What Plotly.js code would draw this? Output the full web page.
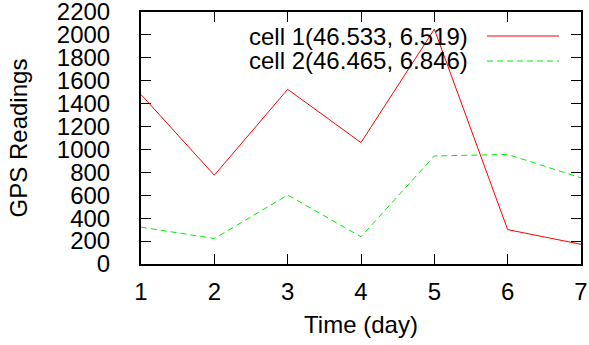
<!DOCTYPE html>
<html>
<head>
<meta charset="utf-8">
<script src="https://cdn.plot.ly/plotly-3.0.1.min.js"></script>
<style>html,body{margin:0;padding:0;background:#fff;}#chart{width:589px;height:345px;}</style>
</head>
<body>
<div id="chart"></div>
<script>
const days = [1, 2, 3, 4, 5, 6, 7];
const cell1Name = "cell 1(46.533, 6.519)";
const cell1Values = [1480, 775, 1525, 1060, 2050, 300, 172];
const cell2Name = "cell 2(46.465, 6.846)";
const cell2Values = [322, 222, 602, 238, 943, 957, 752];
const yTicks = [0, 200, 400, 600, 800, 1000, 1200, 1400, 1600, 1800, 2000, 2200];
const xTicks = [1, 2, 3, 4, 5, 6, 7];

const font = {family: "Liberation Sans, Arial, sans-serif", size: 24, color: "#000"};

const traces = [
  {x: days, y: cell1Values, name: cell1Name, mode: "lines", line: {color: "#ff0000", width: 1}},
  {x: days, y: cell2Values, name: cell2Name, mode: "lines", line: {color: "#00ee00", width: 1, dash: "6px,4px"}}
];

const legendRows = [
  {name: cell1Name, color: "#ff0000", dash: "solid", y: 36},
  {name: cell2Name, color: "#00ee00", dash: "6px,4px", y: 61}
];
const figH = 345, mTop = 12, mBottom = 81;
const plotH = figH - mTop - mBottom;
function py(pix) { return 1 - (pix - mTop) / plotH; }

const annotations = legendRows.map(r => ({
  xref: "paper", yref: "paper", x: (470 - 141) / 440, y: py(r.y),
  xanchor: "right", yanchor: "middle", text: r.name, showarrow: false, font: font
}));
const shapes = legendRows.map(r => ({
  type: "line", xref: "paper", yref: "paper",
  x0: (487 - 141) / 440, x1: (559 - 141) / 440, y0: py(r.y), y1: py(r.y),
  line: {color: r.color, width: 1, dash: r.dash}
}));

const layout = {
  width: 589, height: 345,
  margin: {l: 141, r: 8, t: mTop, b: mBottom},
  paper_bgcolor: "#fff", plot_bgcolor: "#fff",
  showlegend: false,
  font: font,
  xaxis: {
    range: [1, 7], tickvals: xTicks, ticktext: xTicks.map(String),
    ticks: "inside", ticklen: 10, tickwidth: 1, tickcolor: "#000",
    showline: true, linecolor: "#000", linewidth: 2, mirror: "ticks",
    showgrid: false, zeroline: false, ticklabeloverflow: "allow",
    tickfont: font, ticklabelstandoff: 5,
    title: {text: "Time (day)", font: font, standoff: 12}
  },
  yaxis: {
    range: [0, 2200], tickvals: yTicks, ticktext: yTicks.map(String),
    ticks: "inside", ticklen: 10, tickwidth: 1, tickcolor: "#000",
    showline: true, linecolor: "#000", linewidth: 2, mirror: "ticks",
    showgrid: false, zeroline: false, ticklabeloverflow: "allow",
    tickfont: font, ticklabelstandoff: 24,
    title: {text: "GPS Readings", font: font, standoff: 22}
  },
  annotations: annotations,
  shapes: shapes
};

Plotly.newPlot("chart", traces, layout, {displayModeBar: false, staticPlot: true});
</script>
</body>
</html>
